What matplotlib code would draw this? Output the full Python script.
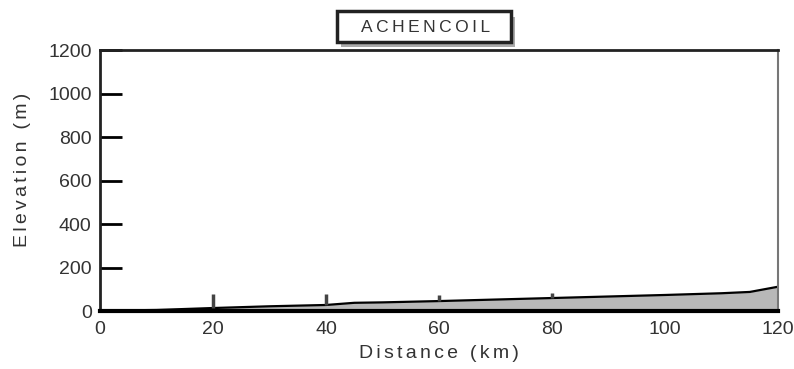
import matplotlib.pyplot as plt
from matplotlib.patches import FancyBboxPatch

plt.rcParams['font.family'] = ['Liberation Sans', 'DejaVu Sans']

# river profile
dist_km = [0, 10, 20, 30, 40, 45, 50, 60, 70, 80, 90, 100, 110, 115, 120]
elev_m = [2, 5, 14, 22, 28, 38, 40, 46, 53, 60, 67, 74, 82, 88, 112]

# small station marks along the bed
station_km = [20, 40, 60, 80]
station_top = [80, 80, 72, 82]
station_base = [14, 28, 46, 60]

title = 'ACHENCOIL'
xticks = [0, 20, 40, 60, 80, 100, 120]
yticks = [0, 200, 400, 600, 800, 1000, 1200]

HS = '\u200a\u200a'  # two hair spaces for the spread-out lettering

fig = plt.figure(figsize=(7.94, 3.69), dpi=100)
ax = fig.add_axes([0.126, 0.157, 0.854, 0.707])

ax.fill_between(dist_km, 0, elev_m, color='#b8b8b8', lw=0)
ax.plot(dist_km, elev_m, color='black', lw=1.6)
ax.vlines(station_km, station_base, station_top, color='#444444', lw=2.5)

ax.set_xlim(0, 120)
ax.set_ylim(0, 1200)
ax.set_xticks(xticks)
ax.set_yticks(yticks)
ax.tick_params(axis='y', direction='in', length=16, width=2, labelsize=14, pad=6, colors='black')
ax.tick_params(axis='x', length=0, labelsize=14, pad=7)
for lab in ax.get_yticklabels() + ax.get_xticklabels():
    lab.set_color('#333333')

for s in ['left', 'top']:
    ax.spines[s].set_linewidth(2)
    ax.spines[s].set_color('#222222')
ax.spines['bottom'].set_linewidth(3)
ax.spines['bottom'].set_color('black')
ax.spines['right'].set_linewidth(1.5)
ax.spines['right'].set_color('#777777')

ax.set_xlabel(HS.join('Distance (km)'), fontsize=14, color='#333333', labelpad=5)
ax.set_ylabel(HS.join('Elevation (m)'), fontsize=14, color='#333333')
ax.yaxis.set_label_coords(-0.102, 0.54)

# title box with shadow
shadow = FancyBboxPatch((0.430, 0.872), 0.218, 0.083, boxstyle='square,pad=0',
                        transform=fig.transFigure, facecolor='#aaaaaa', edgecolor='none')
box = FancyBboxPatch((0.425, 0.886), 0.218, 0.083, boxstyle='square,pad=0',
                     transform=fig.transFigure, facecolor='white', edgecolor='#222222', lw=2.5)
fig.patches.extend([shadow, box])
fig.text(0.536, 0.926, '\u2009'.join(title), ha='center', va='center', fontsize=12.5, color='#333333')

fig.savefig('out.png', dpi=100)
